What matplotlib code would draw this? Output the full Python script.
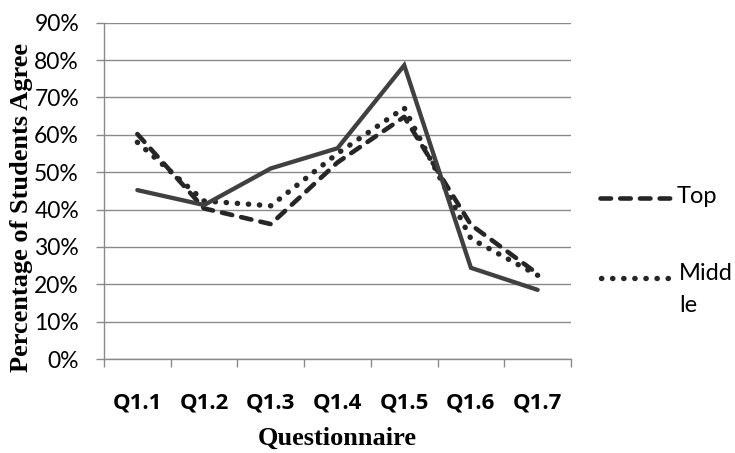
import matplotlib
matplotlib.use("Agg")
import matplotlib.pyplot as plt
import numpy as np
from matplotlib.lines import Line2D
from matplotlib.ticker import FixedLocator

categories = ["Q1.1", "Q1.2", "Q1.3", "Q1.4", "Q1.5", "Q1.6", "Q1.7"]
top = [60.2, 40.3, 36.1, 52.6, 64.8, 35.9, 22.8]
middle = [58.0, 42.3, 41.0, 55.0, 67.2, 32.2, 22.4]
bottom = [45.2, 41.2, 51.0, 56.4, 78.6, 24.4, 18.5]
yticks = [0, 10, 20, 30, 40, 50, 60, 70, 80, 90]

W, H = 735, 453
fig = plt.figure(figsize=(W / 100, H / 100), dpi=100)
ax = fig.add_axes([104 / W, 1 - 359 / H, (571 - 104) / W, (359 - 22.7) / H])

x = np.arange(len(categories))
grid_c = "#8a8a8a"

style_top = dict(color="#262626", lw=3.3, linestyle=(0, (2.3, 2.0)),
                 dash_capstyle="round", solid_capstyle="round")
style_mid = dict(color="#262626", lw=3.9, linestyle=(0, (0.05, 2.0)),
                 dash_capstyle="round")
style_bot = dict(color="#404040", lw=3.1, solid_capstyle="round",
                 solid_joinstyle="miter")

ax.plot(x, top, zorder=3, **style_top)
ax.plot(x, middle, zorder=4, **style_mid)
ax.plot(x, bottom, zorder=5, **style_bot)

ax.set_xlim(-0.5, len(categories) - 0.5)
ax.set_ylim(0, 90)

ax.set_yticks(yticks)
ax.set_yticklabels([f"{v}%" for v in yticks], fontfamily="Lato", fontsize=16.5)
ax.yaxis.grid(True, color=grid_c, lw=1.0)
ax.set_axisbelow(True)

ax.xaxis.set_major_locator(FixedLocator(np.arange(-0.5, len(categories), 1)))
ax.set_xticklabels([])
ax.set_xticks(x, minor=True)
ax.set_xticklabels(categories, minor=True)
for lab in ax.get_xticklabels(minor=True):
    lab.set_fontfamily("Open Sans")
    lab.set_fontweight("bold")
    lab.set_fontsize(16)
ax.tick_params(axis="x", which="minor", length=0, pad=24)
ax.tick_params(axis="x", which="major", length=5.5, width=1.0,
               color=grid_c, direction="out")
ax.tick_params(axis="y", length=6, width=1.0, color=grid_c, pad=12)

for s in ["top", "right"]:
    ax.spines[s].set_visible(False)
for s in ["left", "bottom"]:
    ax.spines[s].set_color(grid_c)
    ax.spines[s].set_linewidth(1.0)

fig.text(22 / W, 1 - 208 / H, "Percentage of Students Agree", rotation=90,
         ha="center", va="center", family="Liberation Serif",
         fontweight="bold", fontsize=19)
fig.text(337.5 / W, 1 - 438 / H, "Questionnaire", ha="center", va="center",
         family="Liberation Serif", fontweight="bold", fontsize=19)

# legend (drawn manually to reproduce wrapped label)
fig.add_artist(Line2D([600 / W, 673 / W], [1 - 197.5 / H] * 2,
                      transform=fig.transFigure, **style_top))
fig.text(677 / W, 1 - 196.5 / H, "Top", ha="left", va="center",
         family="Lato", fontsize=17)
fig.add_artist(Line2D([601 / W, 668 / W], [1 - 278 / H] * 2,
                      transform=fig.transFigure, **style_mid))
fig.text(679 / W, 1 - 274 / H, "Midd", ha="left", va="center",
         family="Lato", fontsize=17)
fig.text(679 / W, 1 - 306 / H, "le", ha="left", va="center",
         family="Lato", fontsize=17)

fig.savefig("out.png", dpi=100)
